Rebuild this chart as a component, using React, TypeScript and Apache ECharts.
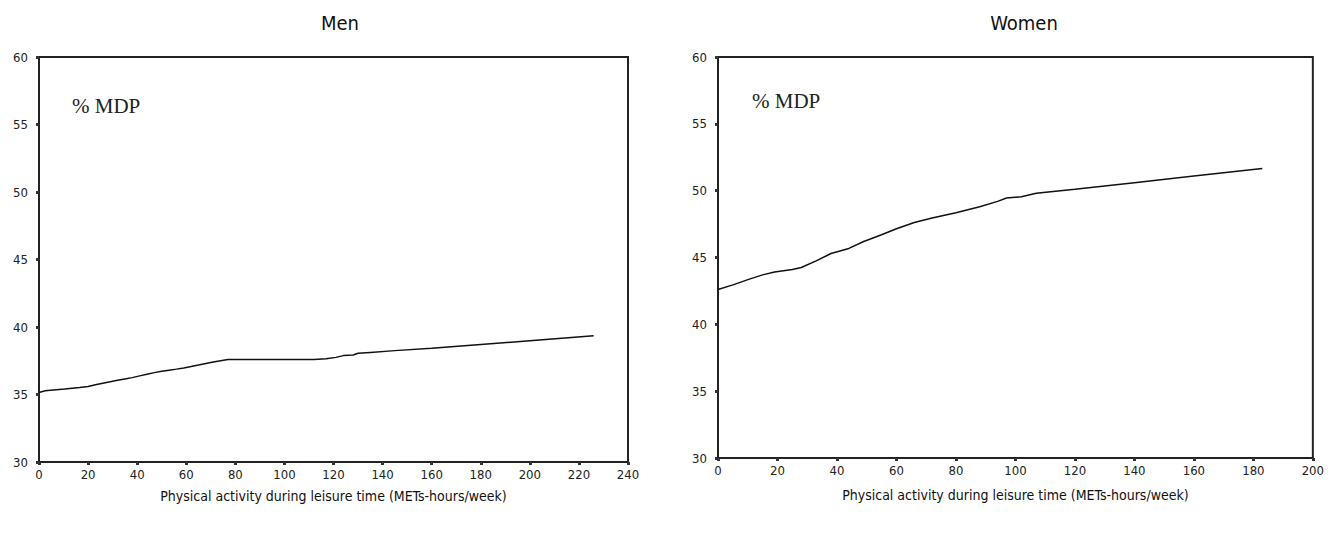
import React, { useEffect, useRef } from "react";
import * as echarts from "echarts";

const menX = [0, 2.5, 10.5, 16.5, 20, 23, 26, 29, 32, 35, 38, 41, 44, 47, 50, 53, 56, 59, 62, 65, 68, 71, 74, 77, 112, 117, 121, 124, 128, 130, 135, 145, 160, 180, 200, 226];
const menY = [35.15, 35.28, 35.4, 35.52, 35.6, 35.72, 35.84, 35.95, 36.05, 36.15, 36.25, 36.38, 36.5, 36.62, 36.72, 36.8, 36.88, 36.97, 37.07, 37.18, 37.3, 37.4, 37.5, 37.6, 37.6, 37.65, 37.75, 37.88, 37.92, 38.05, 38.12, 38.25, 38.42, 38.7, 38.98, 39.35];

const womenX = [0, 5, 10.8, 15, 19, 25, 28, 33, 38, 44, 49, 55, 60, 66, 72, 80, 88, 94, 97, 102, 107, 120, 140, 160, 183];
const womenY = [42.6, 42.95, 43.4, 43.7, 43.92, 44.1, 44.25, 44.75, 45.3, 45.68, 46.2, 46.7, 47.15, 47.62, 47.95, 48.35, 48.8, 49.2, 49.45, 49.55, 49.8, 50.1, 50.6, 51.1, 51.65];

const titles = ["Men", "Women"];
const xName = "Physical activity during leisure time (METs-hours/week)";
const yLabel = "% MDP";
const menXMax = 240;
const womenXMax = 200;
const yMin = 30;
const yMax = 60;

const labelFont = "'DejaVu Sans Condensed', 'Liberation Sans Narrow', sans-serif";

export default function App() {
  const ref = useRef<HTMLDivElement>(null);
  useEffect(() => {
    if (!ref.current) return;
    const chart = echarts.init(ref.current, undefined, { renderer: "svg" });
    const axisCommon = {
      axisLine: { show: true, lineStyle: { color: "#222", width: 2 } },
      axisTick: { show: true, length: 3, lineStyle: { color: "#333", width: 3 } },
      splitLine: { show: false },
    };
    const xAxisFor = (idx: number, max: number, gap: number) => ({
      type: "value",
      gridIndex: idx,
      min: 0,
      max,
      interval: 20,
      name: xName,
      nameLocation: "middle",
      nameGap: gap,
      nameTextStyle: { fontFamily: labelFont, fontSize: 14, color: "#111" },
      axisLabel: { fontFamily: labelFont, fontSize: 13, color: "#222", margin: 6 },
      ...axisCommon,
    });
    const yAxisFor = (idx: number) => ({
      type: "value",
      gridIndex: idx,
      min: yMin,
      max: yMax,
      interval: 5,
      axisLabel: { fontFamily: labelFont, fontSize: 13, color: "#222", margin: 11 },
      ...axisCommon,
    });
    chart.setOption({
      animation: false,
      title: [
        {
          text: titles[0],
          left: 327,
          top: 0,
          textAlign: "center",
          textStyle: { fontFamily: "'DejaVu Sans Condensed', sans-serif", fontSize: 20, fontWeight: "normal", color: "#111" },
        },
        {
          text: titles[1],
          left: 1011,
          top: 0,
          textAlign: "center",
          textStyle: { fontFamily: "'DejaVu Sans Condensed', sans-serif", fontSize: 20, fontWeight: "normal", color: "#111" },
        },
      ],
      grid: [
        { left: 31, top: 49, width: 589, height: 405, show: true, borderColor: "#222", borderWidth: 2 },
        { left: 710, top: 49, width: 595, height: 401, show: true, borderColor: "#222", borderWidth: 2 },
      ],
      xAxis: [xAxisFor(0, menXMax, 27), xAxisFor(1, womenXMax, 30)],
      yAxis: [yAxisFor(0), yAxisFor(1)],
      graphic: [
        {
          type: "text",
          left: 64,
          top: 87,
          style: { text: yLabel, font: "21px 'Liberation Serif', serif", fill: "#222" },
        },
        {
          type: "text",
          left: 744,
          top: 82,
          style: { text: yLabel, font: "21px 'Liberation Serif', serif", fill: "#222" },
        },
      ],
      series: [
        {
          type: "line",
          xAxisIndex: 0,
          yAxisIndex: 0,
          data: menX.map((x, i) => [x, menY[i]]),
          showSymbol: false,
          lineStyle: { color: "#111", width: 1.5 },
        },
        {
          type: "line",
          xAxisIndex: 1,
          yAxisIndex: 1,
          data: womenX.map((x, i) => [x, womenY[i]]),
          showSymbol: false,
          lineStyle: { color: "#111", width: 1.5 },
        },
      ],
    });
    return () => chart.dispose();
  }, []);
  return <div ref={ref} style={{ width: 1319, height: 525 }} />;
}
